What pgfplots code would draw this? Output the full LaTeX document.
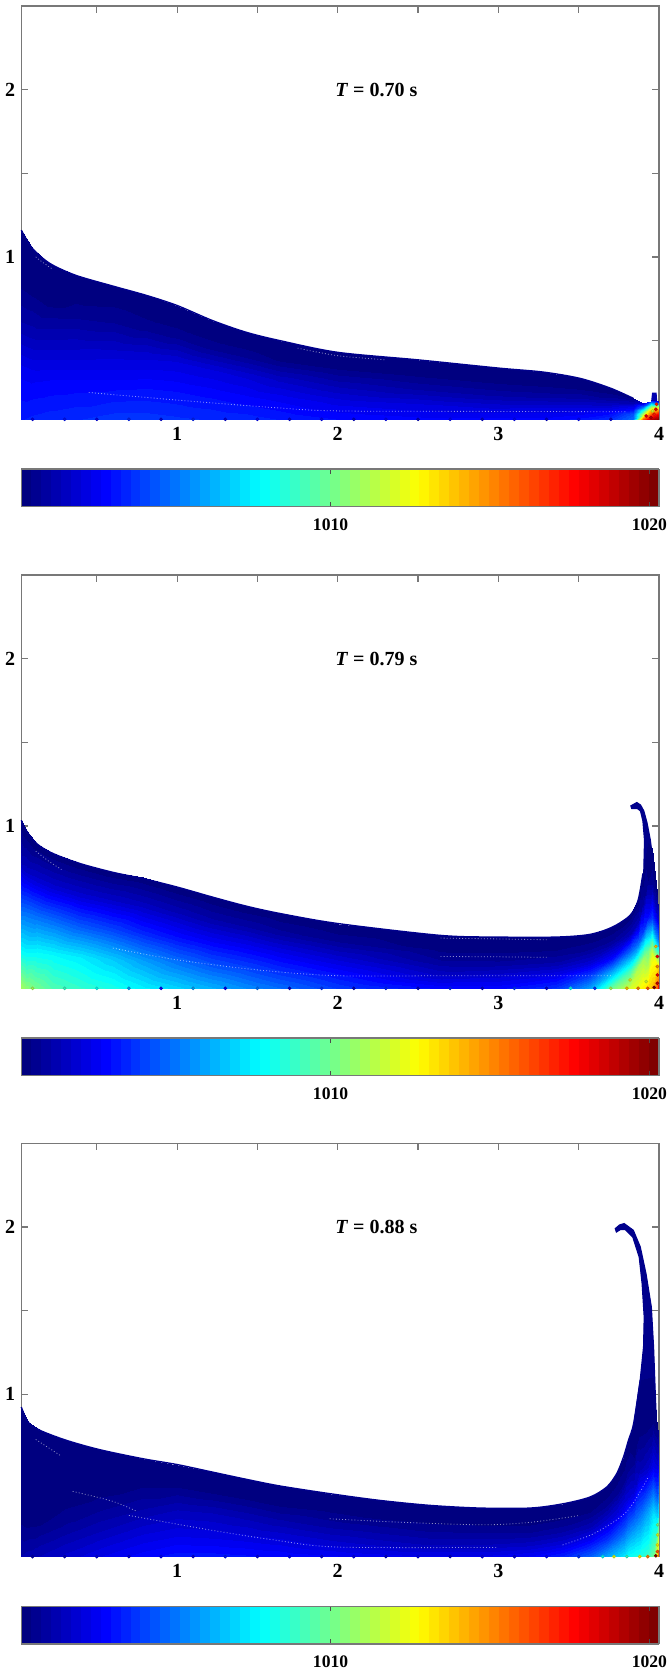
\documentclass[border=0pt]{standalone}
\usepackage{fontspec}
\setmainfont{Liberation Serif}
\usepackage{pgfplots}
\usepgfplotslibrary{patchplots}
\pgfplotsset{compat=1.18}
\definecolor{jetnavy}{RGB}{0,0,140}
\definecolor{frameg}{RGB}{120,120,120}
\pgfplotsset{colormap/jet, colormap={jet64}{samples of colormap=(64 of jet)}}
\pgfplotsset{panel/.style={
  scale only axis, width=318.85pt, height=206.65pt, anchor=south west,
  xmin=0.03, xmax=4.0, ymin=0.03, ymax=2.5, clip=false,
  xtick={0.5,1,1.5,2,2.5,3,3.5,4}, xticklabels={,1,,2,,3,,4},
  ytick={0.5,1,1.5,2}, yticklabels={,1,,2},
  tick align=inside, major tick length=3.3pt,
  axis line style={frameg,line width=0.75pt},
  tick style={frameg,line width=0.6pt},
  tick label style={font=\bfseries\fontsize{10}{12}\selectfont},
  xticklabel style={yshift=-0.5pt},
  yticklabel style={xshift=0.5pt},
  colormap name=jet64, colormap access=piecewise constant,
  point meta min=1000.3, point meta max=1020.3,
  colorbar horizontal, colorbar sampled,
  colorbar style={
    samples=65, scale only axis, width=318.85pt, height=18.85pt,
    at={(0,-0.12025)}, anchor=north west,
    xtick={1010,1020}, xticklabels={1010,1020},
    xticklabel pos=bottom, xtick pos=both,
    tick align=inside, major tick length=2.5pt,
    axis line style={frameg,line width=0.75pt},
    tick style={black!70,line width=0.6pt},
    tick label style={font=\bfseries\fontsize{8.8}{11}\selectfont},
    xticklabel style={yshift=-2.5pt},
  },
  field/.style={surf, shader=interp, mesh/rows=5, mesh/ordering=y varies, point meta=explicit},
  dots/.style={scatter, only marks, mark=*, mark size=0.7pt, point meta=explicit},
  gaps/.style={white, smooth, opacity=0.55, line width=0.4pt, dash pattern=on 0.45pt off 1.1pt},
}}
\begin{document}
\begin{tikzpicture}[x=1pt,y=1pt]
\path[use as bounding box] (0,0) rectangle (333.5,834.5);
% ---------- T = 0.70 ----------
\begin{axis}[panel, at={(10.65pt,624.85pt)}]
\addplot[fill=jetnavy!70!blue,draw=none] coordinates {(3.95,0.13)(3.957,0.19)(3.985,0.19)(3.99,0.12)} --cycle;
\addplot[field] table[x=x,y=y,meta=v] {
x y v
0.03 1.16 1000.3
0.03 0.88 1000.4
0.03 0.595 1001.3
0.03 0.31 1002.7
0.03 0.03 1003.4
0.10 1.05 1000.3
0.10 0.795 1000.5
0.10 0.54 1001.4
0.10 0.285 1002.7
0.10 0.03 1003.5
0.21 0.96 1000.3
0.21 0.7275 1000.5
0.21 0.495 1001.6
0.21 0.2625 1002.8
0.21 0.03 1003.6
0.37 0.89 1000.3
0.37 0.675 1000.7
0.37 0.46 1001.8
0.37 0.245 1002.9
0.37 0.03 1003.7
0.60 0.826 1000.3
0.60 0.627 1000.8
0.60 0.428 1002.0
0.60 0.229 1003.0
0.60 0.03 1003.9
0.81 0.77 1000.3
0.81 0.585 1000.7
0.81 0.40 1002.1
0.81 0.215 1003.1
0.81 0.03 1003.9
1.0 0.71 1000.3
1.0 0.54 1000.7
1.0 0.37 1002.2
1.0 0.20 1003.1
1.0 0.03 1003.8
1.22 0.62 1000.3
1.22 0.47 1000.7
1.22 0.325 1002.2
1.22 0.18 1003.0
1.22 0.03 1003.7
1.43 0.55 1000.3
1.43 0.42 1000.7
1.43 0.29 1002.1
1.43 0.16 1002.9
1.43 0.03 1003.6
1.64 0.50 1000.3
1.64 0.38 1000.6
1.64 0.265 1001.8
1.64 0.15 1002.7
1.64 0.03 1003.4
2.0 0.43 1000.3
2.0 0.33 1000.6
2.0 0.23 1001.5
2.0 0.13 1002.4
2.0 0.03 1003.1
2.5 0.385 1000.3
2.5 0.30 1000.5
2.5 0.21 1001.2
2.5 0.12 1002.2
2.5 0.03 1002.9
3.0 0.336 1000.3
3.0 0.26 1000.5
3.0 0.18 1001.1
3.0 0.105 1002.1
3.0 0.03 1002.9
3.28 0.312 1000.3
3.28 0.24 1000.5
3.28 0.17 1001.1
3.28 0.10 1002.2
3.28 0.03 1002.9
3.51 0.274 1000.3
3.51 0.21 1000.6
3.51 0.15 1001.3
3.51 0.09 1002.3
3.51 0.03 1003.2
3.70 0.215 1000.4
3.70 0.17 1000.7
3.70 0.12 1001.7
3.70 0.075 1002.9
3.70 0.03 1003.8
3.84 0.155 1000.6
3.84 0.125 1001.5
3.84 0.09 1003
3.84 0.06 1004.5
3.84 0.03 1005
3.90 0.13 1002
3.90 0.105 1005
3.90 0.08 1009
3.90 0.055 1012
3.90 0.03 1016
3.95 0.14 1004
3.95 0.11 1010
3.95 0.085 1014
3.95 0.06 1016
3.95 0.03 1019
4.0 0.14 1002
4.0 0.11 1011
4.0 0.085 1015
4.0 0.06 1018
4.0 0.03 1020
};
\addplot[jetnavy,smooth,line width=0.7pt] coordinates {(0.03,1.16)(0.10,1.05)(0.21,0.96)(0.37,0.89)(0.60,0.826)(0.81,0.77)(1.0,0.71)(1.22,0.62)(1.43,0.55)(1.64,0.50)(2.0,0.43)(2.5,0.385)(3.0,0.336)(3.28,0.312)(3.51,0.274)(3.70,0.215)(3.84,0.155)};
\addplot[gaps] coordinates {(0.45,0.19)(1.0,0.145)(1.6,0.10)(2.0,0.08)(3.0,0.077)(3.8,0.075)};
\addplot[gaps] coordinates {(1.75,0.455)(2.0,0.41)(2.3,0.385)};
\addplot[gaps] coordinates {(0.12,1.0)(0.16,0.97)(0.22,0.93)};
\addplot[dots] table[x=x,y=y,meta=v] {
x y v
0.1 0.03 1002.6
0.3 0.03 1003.4
0.5 0.03 1002.6
0.7 0.03 1003.6
0.9 0.03 1002.4
1.1 0.03 1003.6
1.3 0.03 1002.4
1.5 0.03 1003.0
1.7 0.03 1002.2
1.9 0.03 1003.0
2.1 0.03 1002.0
2.3 0.03 1002.8
2.5 0.03 1001.8
2.7 0.03 1002.8
2.9 0.03 1002.0
3.1 0.03 1002.8
3.3 0.03 1002.0
3.5 0.03 1003.0
3.7 0.03 1002.4
3.92 0.05 1018
3.95 0.04 1019
3.97 0.06 1017
3.98 0.09 1018
3.985 0.12 1017
3.96 0.08 1012
};
\node[font=\bfseries\fontsize{10}{12}\selectfont] at (axis cs:2.24,2.0) {\textit{T} = 0.70 s};
\end{axis}
% ---------- T = 0.79 ----------
\begin{axis}[panel, at={(10.65pt,340.35pt)}]
\addplot[fill=jetnavy,draw=jetnavy,line width=0.6pt] coordinates {
(3.90,0.60)(3.905,0.716)(3.91,0.915)(3.90,1.03)(3.885,1.09)(3.865,1.105)(3.845,1.105)(3.83,1.105)(3.825,1.12)(3.84,1.128)(3.862,1.14)(3.885,1.125)(3.905,1.09)(3.925,1.02)(3.946,0.915)(3.965,0.77)(3.975,0.67)(3.98,0.55)
} --cycle;
\addplot[field] table[x=x,y=y,meta=v] {
x y v
0.03 1.034 1000.3
0.03 0.783 1001.5
0.03 0.532 1004.5
0.03 0.281 1007.5
0.03 0.03 1011
0.06 0.974 1000.3
0.06 0.738 1001.7
0.06 0.502 1004.8
0.06 0.266 1007.5
0.06 0.03 1010.5
0.125 0.895 1000.3
0.125 0.679 1002
0.125 0.46 1005
0.125 0.246 1007.8
0.125 0.03 1010
0.226 0.836 1000.3
0.226 0.635 1002
0.226 0.433 1005
0.226 0.231 1007.8
0.226 0.03 1009.3
0.394 0.776 1000.3
0.394 0.59 1002
0.394 0.40 1004.6
0.394 0.217 1007.5
0.394 0.03 1008.8
0.60 0.723 1000.3
0.60 0.55 1001.9
0.60 0.377 1004.2
0.60 0.203 1006.8
0.60 0.03 1008.3
0.79 0.693 1000.3
0.79 0.527 1001.7
0.79 0.36 1003.6
0.79 0.196 1006
0.79 0.03 1007.6
1.0 0.635 1000.3
1.0 0.484 1001.5
1.0 0.33 1003.2
1.0 0.18 1005.2
1.0 0.03 1007
1.22 0.575 1000.3
1.22 0.44 1001.3
1.22 0.30 1002.9
1.22 0.166 1004.6
1.22 0.03 1006.3
1.43 0.521 1000.3
1.43 0.40 1001.2
1.43 0.275 1002.7
1.43 0.153 1004.2
1.43 0.03 1005.6
1.64 0.477 1000.3
1.64 0.365 1001
1.64 0.254 1002.4
1.64 0.142 1003.7
1.64 0.03 1005
2.0 0.417 1000.3
2.0 0.32 1000.8
2.0 0.224 1001.9
2.0 0.127 1003
2.0 0.03 1004
2.64 0.346 1000.3
2.64 0.267 1000.5
2.64 0.188 1001
2.64 0.11 1001.8
2.64 0.03 1003
3.0 0.336 1000.3
3.0 0.26 1000.5
3.0 0.183 1001
3.0 0.107 1002
3.0 0.03 1003
3.36 0.336 1000.3
3.36 0.26 1000.6
3.36 0.183 1001.3
3.36 0.107 1002.5
3.36 0.03 1003.8
3.57 0.352 1000.3
3.57 0.27 1000.8
3.57 0.19 1002
3.57 0.11 1004
3.57 0.03 1006
3.71 0.396 1000.3
3.71 0.305 1001
3.71 0.213 1003
3.71 0.12 1006.5
3.71 0.03 1010
3.82 0.466 1000.3
3.82 0.357 1001.5
3.82 0.248 1005
3.82 0.14 1009
3.82 0.03 1012
3.87 0.556 1000.3
3.87 0.424 1001.5
3.87 0.293 1005
3.87 0.16 1011
3.87 0.03 1012.5
3.90 0.716 1000.3
3.90 0.545 1001
3.90 0.373 1004
3.90 0.20 1011
3.90 0.03 1013
3.93 0.90 1000.3
3.93 0.68 1000.6
3.93 0.465 1003
3.93 0.25 1010
3.93 0.03 1013.5
3.955 0.87 1000.3
3.955 0.66 1000.8
3.955 0.45 1004
3.955 0.24 1012
3.955 0.03 1014
3.985 0.6 1000.5
3.985 0.46 1002
3.985 0.315 1006
3.985 0.17 1013
3.985 0.03 1016
3.998 0.35 1003
3.998 0.27 1006
3.998 0.19 1012
3.998 0.11 1015
3.998 0.03 1020
};
\addplot[jetnavy,smooth,line width=0.7pt] coordinates {(0.03,1.034)(0.06,0.974)(0.125,0.895)(0.226,0.836)(0.394,0.776)(0.60,0.723)(0.79,0.685)(1.0,0.635)(1.22,0.575)(1.43,0.521)(1.64,0.477)(2.0,0.417)(2.64,0.346)(3.0,0.336)(3.36,0.336)(3.57,0.352)(3.71,0.396)(3.82,0.466)(3.87,0.556)(3.90,0.716)};
\addplot[gaps] coordinates {(0.6,0.27)(1.0,0.2)(1.5,0.14)(2.0,0.105)(2.7,0.105)(3.7,0.105)};
\addplot[gaps] coordinates {(2.64,0.33)(3.0,0.325)(3.3,0.32)};
\addplot[gaps] coordinates {(2.64,0.22)(3.0,0.218)(3.3,0.215)};
\addplot[gaps] coordinates {(0.12,0.85)(0.2,0.79)(0.28,0.74)};
\addplot[dots] table[x=x,y=y,meta=v] {
x y v
0.1 0.03 1011
0.3 0.03 1009
0.5 0.03 1008
0.7 0.03 1006
0.9 0.03 1003
1.1 0.03 1006
1.3 0.03 1002.5
1.5 0.03 1005
1.7 0.03 1002
1.9 0.03 1004
2.1 0.03 1001.8
2.3 0.03 1003.5
2.5 0.03 1001.8
2.7 0.03 1003.5
2.9 0.03 1002
3.1 0.03 1004
3.3 0.03 1002
3.45 0.03 1008
3.6 0.03 1004
3.7 0.03 1011
3.8 0.03 1014
3.87 0.03 1015
3.93 0.03 1016
3.97 0.035 1020
3.99 0.06 1019
3.99 0.11 1018
3.99 0.16 1015
3.99 0.22 1018
3.98 0.28 1014
3.92 0.07 1012
3.82 0.08 1012
};
\node[font=\bfseries\fontsize{10}{12}\selectfont] at (axis cs:2.24,2.0) {\textit{T} = 0.79 s};
\end{axis}
% ---------- T = 0.88 ----------
\begin{axis}[panel, at={(10.65pt,56.2pt)}]
\addplot[fill=jetnavy,draw=jetnavy,line width=0.6pt] coordinates {
(3.842,0.80)(3.883,1.084)(3.904,1.283)(3.908,1.462)(3.895,1.662)(3.877,1.82)(3.837,1.94)(3.79,1.985)(3.76,1.985)(3.735,1.97)(3.728,1.99)(3.755,2.012)(3.783,2.02)(3.84,1.98)(3.883,1.881)(3.919,1.72)(3.952,1.522)(3.966,1.283)(3.976,1.024)(3.987,0.75)
} --cycle;
\addplot[field] table[x=x,y=y,meta=v] {
x y v
0.03 0.924 1000.3
0.03 0.70 1000.3
0.03 0.477 1000.3
0.03 0.254 1000.5
0.03 0.03 1001.3
0.072 0.834 1000.3
0.072 0.633 1000.3
0.072 0.432 1000.3
0.072 0.231 1000.5
0.072 0.03 1001.4
0.145 0.785 1000.3
0.145 0.596 1000.3
0.145 0.408 1000.3
0.145 0.219 1000.6
0.145 0.03 1001.6
0.31 0.725 1000.3
0.31 0.551 1000.3
0.31 0.378 1000.4
0.31 0.204 1001.0
0.31 0.03 1002.0
0.518 0.669 1000.3
0.518 0.509 1000.3
0.518 0.35 1000.7
0.518 0.19 1001.5
0.518 0.03 1002.5
0.786 0.615 1000.3
0.786 0.469 1000.5
0.786 0.323 1001.2
0.786 0.176 1002.1
0.786 0.03 1003.0
1.0 0.58 1000.3
1.0 0.443 1000.6
1.0 0.305 1001.6
1.0 0.168 1002.4
1.0 0.03 1003.3
1.22 0.535 1000.3
1.22 0.409 1000.6
1.22 0.283 1001.6
1.22 0.156 1002.4
1.22 0.03 1003.3
1.43 0.492 1000.3
1.43 0.377 1000.6
1.43 0.261 1001.5
1.43 0.146 1002.3
1.43 0.03 1003.2
1.64 0.452 1000.3
1.64 0.347 1000.5
1.64 0.241 1001.3
1.64 0.136 1002.2
1.64 0.03 1003.1
1.951 0.406 1000.3
1.951 0.312 1000.5
1.951 0.218 1001.1
1.951 0.124 1001.9
1.951 0.03 1002.9
2.26 0.366 1000.3
2.26 0.282 1000.4
2.26 0.198 1001.0
2.26 0.114 1001.7
2.26 0.03 1002.7
2.575 0.336 1000.3
2.575 0.26 1000.4
2.575 0.183 1000.9
2.575 0.107 1001.5
2.575 0.03 1002.6
2.886 0.32 1000.3
2.886 0.248 1000.4
2.886 0.175 1000.9
2.886 0.103 1001.5
2.886 0.03 1002.6
3.198 0.32 1000.3
3.198 0.248 1000.4
3.198 0.175 1000.9
3.198 0.103 1001.7
3.198 0.03 1002.9
3.405 0.346 1000.3
3.405 0.267 1000.5
3.405 0.188 1001.1
3.405 0.109 1002.1
3.405 0.03 1003.6
3.571 0.386 1000.3
3.571 0.297 1000.6
3.571 0.208 1001.5
3.571 0.119 1003
3.571 0.03 1004.8
3.675 0.446 1000.3
3.675 0.342 1000.8
3.675 0.238 1002.1
3.675 0.134 1003.8
3.675 0.03 1006.2
3.737 0.526 1000.3
3.737 0.402 1000.9
3.737 0.278 1002.3
3.737 0.154 1004.5
3.737 0.03 1007
3.779 0.625 1000.3
3.779 0.476 1000.9
3.779 0.328 1002.4
3.779 0.179 1004.8
3.779 0.03 1007.5
3.81 0.725 1000.3
3.81 0.551 1000.8
3.81 0.378 1002.2
3.81 0.204 1005
3.81 0.03 1008
3.842 0.825 1000.3
3.842 0.626 1000.6
3.842 0.428 1002
3.842 0.229 1005.2
3.842 0.03 1008.3
3.883 1.084 1000.3
3.883 0.82 1000.3
3.883 0.557 1001.4
3.883 0.293 1005
3.883 0.03 1008.5
3.93 1.10 1000.3
3.93 0.83 1000.4
3.93 0.565 1001.8
3.93 0.30 1006
3.93 0.03 1009
3.96 1.10 1000.3
3.96 0.83 1000.6
3.96 0.565 1002.5
3.96 0.30 1007
3.96 0.03 1010
3.99 0.80 1000.5
3.99 0.61 1001.8
3.99 0.415 1004.2
3.99 0.22 1008
3.99 0.03 1013
3.998 0.75 1001
3.998 0.57 1003
3.998 0.39 1006
3.998 0.21 1011
3.998 0.03 1019
};
\addplot[jetnavy,smooth,line width=0.7pt] coordinates {(0.03,0.924)(0.072,0.834)(0.145,0.785)(0.31,0.725)(0.518,0.669)(0.786,0.615)(1.0,0.58)(1.22,0.535)(1.43,0.492)(1.64,0.452)(1.951,0.406)(2.26,0.366)(2.575,0.336)(2.886,0.32)(3.198,0.32)(3.405,0.346)(3.571,0.386)(3.675,0.446)(3.737,0.526)(3.779,0.625)(3.81,0.725)(3.842,0.825)(3.883,1.084)};
\addplot[gaps] coordinates {(0.7,0.276)(1.2,0.19)(1.6,0.13)(2.0,0.087)(3.0,0.085)};
\addplot[gaps] coordinates {(1.95,0.256)(2.4,0.235)(2.9,0.22)(3.2,0.235)(3.5,0.275)};
\addplot[gaps] coordinates {(3.4,0.1)(3.6,0.17)(3.8,0.3)(3.93,0.5)};
\addplot[gaps] coordinates {(0.12,0.73)(0.2,0.68)(0.28,0.63)};
\addplot[gaps] coordinates {(0.35,0.42)(0.6,0.36)(0.75,0.3)};
\addplot[dots] table[x=x,y=y,meta=v] {
x y v
0.1 0.03 1001.4
0.3 0.03 1001.8
0.5 0.03 1002.4
0.7 0.03 1002.2
0.9 0.03 1003
1.1 0.03 1002.4
1.3 0.03 1003.2
1.5 0.03 1002.4
1.7 0.03 1003
1.9 0.03 1002.2
2.1 0.03 1002.6
2.3 0.03 1002
2.5 0.03 1002.6
2.7 0.03 1002
2.9 0.03 1002.6
3.1 0.03 1002.2
3.3 0.03 1003
3.5 0.03 1004
3.65 0.03 1008
3.72 0.03 1012
3.8 0.03 1009
3.88 0.03 1013
3.93 0.03 1015
3.98 0.035 1020
3.99 0.06 1016
3.99 0.10 1013
3.992 0.16 1012
3.992 0.22 1010
};
\node[font=\bfseries\fontsize{10}{12}\selectfont] at (axis cs:2.24,2.0) {\textit{T} = 0.88 s};
\end{axis}
\end{tikzpicture}
\end{document}
